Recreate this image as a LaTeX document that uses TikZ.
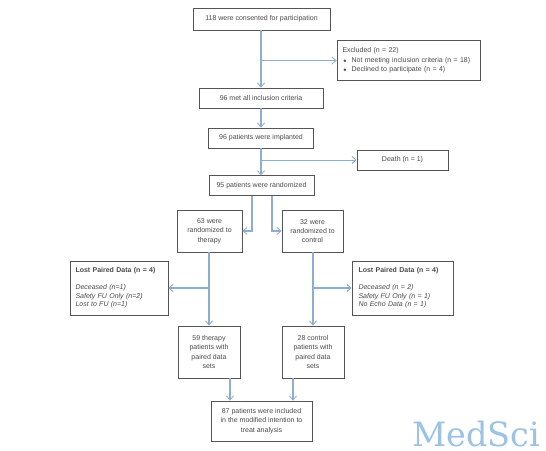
\documentclass[tikz,border=0pt]{standalone}
\usepackage{fontspec}
\setmainfont{Liberation Sans}
\newfontfamily\wmfont{DejaVu Serif}
\usetikzlibrary{arrows.meta,calc}
\definecolor{txt}{HTML}{4A4A4A}
\definecolor{edge}{HTML}{555555}
\definecolor{flow}{HTML}{8DAECF}
\definecolor{wm}{HTML}{9CC2E5}
\tikzset{
  x=1pt,y=-1pt,
  boxn/.style={draw=edge,line width=0.9pt,fill=white,text=txt,align=center,inner sep=1pt,
    font=\fontsize{7}{9.3}\selectfont},
  mainflow/.style={draw=flow,line width=1.5pt,-{Straight Barb[length=4pt,width=7pt,line width=0.8pt]}},
  sideflow/.style={draw=flow,line width=0.9pt,-{Straight Barb[length=4pt,width=7pt,line width=0.8pt]}},
}
\newcommand{\bx}[6]{\node[boxn,minimum width=#3pt,minimum height=#4pt] (#1) at (#2,#5) {#6};}
\begin{document}
\begin{tikzpicture}
\useasboundingbox (0,0) rectangle (546,450);
\fill[white] (0,0) rectangle (546,450);
\bx{consent}{261.5}{137}{22}{19}{118 were consented for participation}
\node[boxn,align=left,minimum width=143pt,minimum height=40pt,text width=132pt] (excl) at (408.5,60.5)
  {Excluded (n = 22)\\[0.2pt]
   \hspace*{0.5pt}$\scriptstyle\bullet$\hspace{5pt}Not meeting inclusion criteria (n = 18)\\
   \hspace*{0.5pt}$\scriptstyle\bullet$\hspace{5pt}Declined to participate (n = 4)};
\bx{met}{261}{124}{20}{98}{96 met all inclusion criteria}
\bx{impl}{261}{105}{20}{138}{96 patients were implanted}
\bx{death}{402.5}{91}{20}{160}{Death (n = 1)}
\bx{rand}{261.5}{105}{19.5}{185.5}{95 patients were randomized}
\bx{ther}{209.5}{65}{42}{231}{63 were\\randomized to\\therapy}
\bx{ctrl}{312.5}{61}{42}{231}{32 were\\randomized to\\control}
\node[boxn,align=left,minimum width=98pt,minimum height=54pt,text width=87pt] (lostl) at (119,288)
  {\textbf{Lost Paired Data (n = 4)}\\[8pt]\textit{Deceased (n=1)}\\[-0.8pt]\textit{Safety FU Only (n=2)}\\[-0.8pt]\textit{Lost to FU (n=1)}};
\node[boxn,align=left,minimum width=101pt,minimum height=54pt,text width=88pt] (lostr) at (402.5,288)
  {\textbf{Lost Paired Data (n = 4)}\\[8pt]\textit{Deceased (n = 2)}\\[-0.8pt]\textit{Safety FU Only (n = 1)}\\[-0.8pt]\textit{No Echo Data (n = 1)}};
\bx{pther}{209}{62}{52}{352}{59 therapy\\patients with\\paired data\\sets}
\bx{pctrl}{313}{62}{52}{352}{28 control\\patients with\\paired data\\sets}
\bx{itt}{261.5}{101}{40}{421}{87 patients were included\\in the modified intention to\\treat analysis}
\node[anchor=base west,inner sep=0pt,text=wm,font=\wmfont\fontsize{33.5}{34}\selectfont] (mark) at (412,446) {MedSci};

\draw[mainflow] (consent.south -| met.north) -- (met.north);
\draw[mainflow] (met) -- (impl);
\draw[mainflow] (impl.south) -- (rand.north -| impl.south);
\coordinate (jexcl) at (excl.west -| met.north);
\draw[sideflow] (jexcl) -- (excl.west);
\coordinate (jdeath) at (death.west -| impl.south);
\draw[sideflow] (jdeath) -- (death.west);
% randomized split
\coordinate (rl) at ([xshift=-9.5pt]rand.south);
\coordinate (rr) at ([xshift=10.5pt]rand.south);
\draw[mainflow,line width=1.2pt] (rl) |- (ther.east);
\draw[mainflow,line width=1.2pt] (rr) |- (ctrl.west);
% therapy arm
\draw[mainflow] (ther.south -| pther.north) -- (pther.north);
\coordinate (jl) at (lostl.east -| pther.north);
\draw[sideflow,line width=1.2pt] (jl) -- (lostl.east);
% control arm
\draw[mainflow] (ctrl.south -| pctrl.north) -- (pctrl.north);
\coordinate (jr) at (lostr.west -| pctrl.north);
\draw[sideflow,line width=1.2pt] (jr) -- (lostr.west);
% merge
\coordinate (ml) at ([xshift=21pt]pther.south);
\coordinate (mr) at ([xshift=-20pt]pctrl.south);
\draw[mainflow] (ml) -- (ml |- itt.north);
\draw[mainflow] (mr) -- (mr |- itt.north);
\end{tikzpicture}
\end{document}
